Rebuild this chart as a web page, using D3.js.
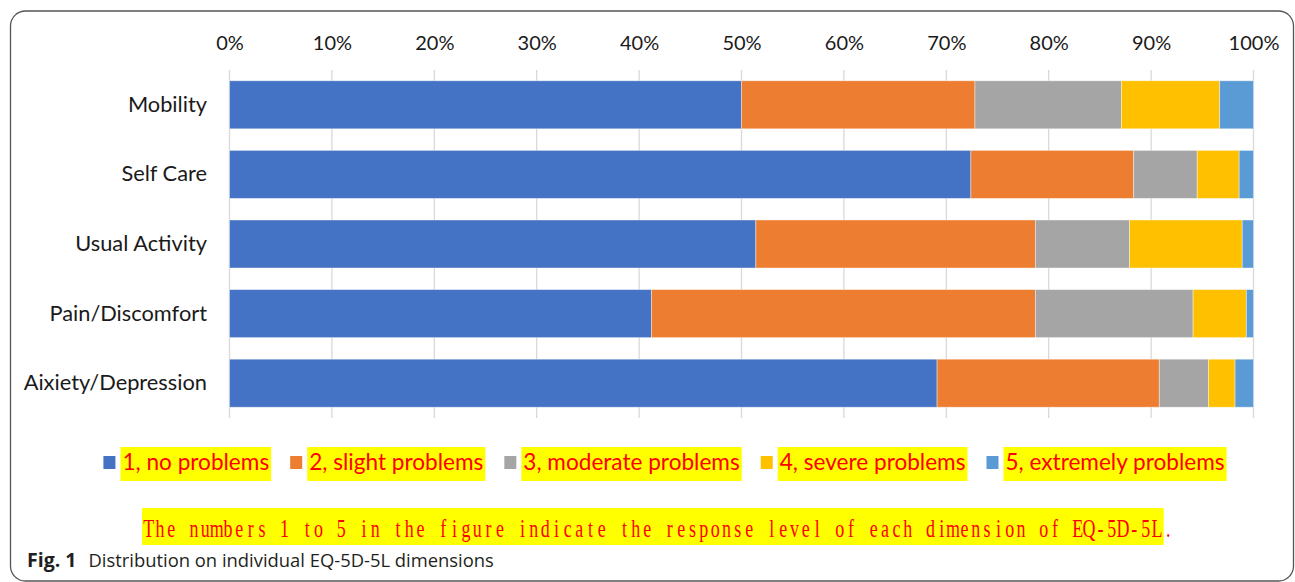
<!DOCTYPE html>
<html>
<head>
<meta charset="utf-8">
<script src="https://cdn.jsdelivr.net/npm/d3@7"></script>
<style>
  body { margin: 0; background: #fff; }
  svg { display: block; }
</style>
</head>
<body>
<script>
// data (percent of respondents at each level)
var dimensions = ["Mobility", "Self Care", "Usual Activity", "Pain/Discomfort", "Aixiety/Depression"];
var levels = ["1, no problems", "2, slight problems", "3, moderate problems", "4, severe problems", "5, extremely problems"];
var level1 = [50.0, 72.4, 51.4, 41.2, 69.1];
var level2 = [22.8, 15.9, 27.3, 37.5, 21.7];
var level3 = [14.3, 6.2, 9.2, 15.4, 4.8];
var level4 = [9.6, 4.1, 11.0, 5.2, 2.6];
var level5 = [3.3, 1.4, 1.1, 0.7, 1.8];
var tickValues = [0, 0.1, 0.2, 0.3, 0.4, 0.5, 0.6, 0.7, 0.8, 0.9, 1];
var colors = ["#4472C4", "#ED7D31", "#A5A5A5", "#FFC000", "#5B9BD5"];
var footnote = "The numbers 1 to 5 in the figure indicate the response level of each dimension of EQ-5D-5L";

var W = 1295, H = 582;
var chartFont = "Lato, 'Liberation Sans', sans-serif";

var svg = d3.select("body").append("svg")
  .attr("width", W)
  .attr("height", H);

// panel border
svg.append("rect")
  .attr("x", 10.5).attr("y", 11)
  .attr("width", 1283).attr("height", 570)
  .attr("rx", 15)
  .attr("fill", "none")
  .attr("stroke", "#555")
  .attr("stroke-width", 1.3);

var x = d3.scaleLinear().domain([0, 1]).range([229.5, 1253.5]);
var y = d3.scaleBand().domain(dimensions).range([70, 418]).paddingInner(0.31).paddingOuter(0.155);

// stack the series
var table = dimensions.map(function(d, i) {
  return { dim: d, l0: level1[i], l1: level2[i], l2: level3[i], l3: level4[i], l4: level5[i] };
});
var keys = ["l0", "l1", "l2", "l3", "l4"];
var series = d3.stack().keys(keys).offset(d3.stackOffsetExpand)(table);

// gridlines
svg.append("g")
  .selectAll("line")
  .data(tickValues)
  .join("line")
  .attr("x1", d => x(d)).attr("x2", d => x(d))
  .attr("y1", 70).attr("y2", 418)
  .attr("stroke", "#d9d9d9")
  .attr("stroke-width", 1.3);

// top axis
var axis = svg.append("g")
  .attr("transform", "translate(0,62)")
  .call(d3.axisTop(x).tickValues(tickValues).tickFormat(d3.format(".0%")).tickSize(0).tickPadding(12));
axis.select(".domain").remove();
axis.selectAll("text")
  .attr("font-family", chartFont)
  .attr("font-size", 20)
  .attr("fill", "#1a1a1a");

// bars
svg.append("g")
  .selectAll("g")
  .data(series)
  .join("g")
  .attr("fill", (d, i) => colors[i])
  .selectAll("rect")
  .data(d => d)
  .join("rect")
  .attr("x", d => x(d[0]))
  .attr("y", d => y(d.data.dim))
  .attr("width", d => x(d[1]) - x(d[0]))
  .attr("height", y.bandwidth())
  .attr("stroke", "#fff")
  .attr("stroke-opacity", 0.5)
  .attr("stroke-width", 0.8);

// category labels
var yAxis = svg.append("g")
  .attr("transform", "translate(217,0)")
  .call(d3.axisLeft(y).tickSize(0).tickPadding(10));
yAxis.select(".domain").remove();
yAxis.selectAll("text")
  .attr("font-family", chartFont)
  .attr("font-size", 21.8)
  .attr("fill", "#1a1a1a");

// legend, laid out from measured text widths
var legend = svg.append("g").attr("transform", "translate(0,462)");
var items = legend.selectAll("g")
  .data(levels)
  .join("g");

items.append("rect")
  .attr("class", "bg")
  .attr("fill", "#ffff00");
items.append("rect")
  .attr("class", "sw")
  .attr("width", 12).attr("height", 13)
  .attr("y", -6)
  .attr("fill", (d, i) => colors[i]);
items.append("text")
  .attr("font-family", chartFont)
  .attr("font-size", 22.6)
  .attr("fill", "#ff0000")
  .attr("dy", "0.35em")
  .text(d => d);

var cursor = 0;
var gap = 19;
items.each(function() {
  var g = d3.select(this);
  var tw = g.select("text").node().getComputedTextLength();
  g.attr("transform", "translate(" + cursor + ",0)");
  g.select("text").attr("x", 19);
  g.select(".bg").attr("x", 17).attr("y", -15).attr("width", tw + 4).attr("height", 34);
  cursor += 17 + tw + 4 + gap;
});
var legendWidth = cursor - gap;
legend.attr("transform", "translate(" + (665 - legendWidth / 2) + ",462)");

// footnote: serif glyphs centred on a fixed character pitch, squeezed horizontally
var pitch = 11.33, sx = 0.72;
var chars = (footnote + ".").split("");
var note = svg.append("g");
note.append("rect")
  .attr("x", 142).attr("y", 508)
  .attr("width", footnote.length * pitch + 2).attr("height", 37)
  .attr("fill", "#ffff00");
note.append("text")
  .attr("transform", "translate(143,537) scale(" + sx + ",1)")
  .attr("x", chars.map((c, i) => (i * pitch + pitch / 2) / sx).join(" "))
  .attr("text-anchor", "middle")
  .attr("font-family", "'Liberation Serif', 'DejaVu Serif', serif")
  .attr("font-size", 25)
  .attr("fill", "#ff0000")
  .text(chars.join(""));

// figure caption
var cap = svg.append("text")
  .attr("x", 27)
  .attr("y", 567)
  .attr("font-family", "'Open Sans', 'Noto Sans', sans-serif")
  .attr("font-size", 18.4)
  .attr("fill", "#231f20");
cap.append("tspan").attr("font-weight", "bold").attr("font-size", 19.5).text("Fig. 1");
cap.append("tspan").attr("dx", 12).text("Distribution on individual EQ-5D-5L dimensions");
</script>
</body>
</html>
